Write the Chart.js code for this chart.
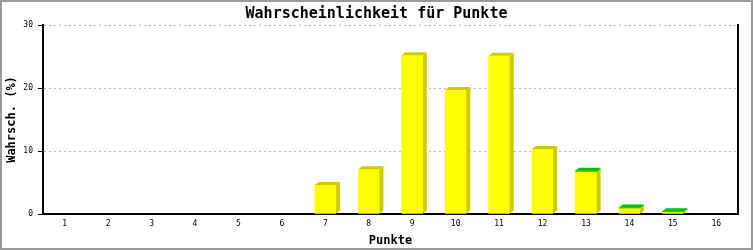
<!DOCTYPE html>
<html>
<head>
<meta charset="utf-8">
<script src="https://cdn.jsdelivr.net/npm/chart.js@4"></script>
<style>
  html, body { margin: 0; padding: 0; background: #fff; }
  #wrap { width: 753px; height: 250px; position: relative; }
</style>
</head>
<body>
<div id="wrap"><canvas id="chart"></canvas></div>
<script>
// --- Data ---
const points = ['1', '2', '3', '4', '5', '6', '7', '8', '9', '10', '11', '12', '13', '14', '15', '16'];
const yellowValues = [0, 0, 0, 0, 0, 0, 4.6, 7.1, 25.2, 19.7, 25.1, 10.3, 6.7, 0.9, 0.3, 0];
const greenValues = [0, 0, 0, 0, 0, 0, 0, 0, 0, 0, 0, 0, 0.15, 0.15, 0.15, 0];
const yTicks = [0, 10, 20, 30];

const mono = 'DejaVu Sans Mono';
const DX = 4, DY = 3;

// draws the fake 3D side and top of every bar, dataset by dataset (bottom of stack first)
const depth3d = {
    id: 'depth3d',
    afterDatasetsDraw(chart) {
        const ctx = chart.ctx;
        chart.data.datasets.forEach((ds, i) => {
            chart.getDatasetMeta(i).data.forEach(bar => {
                const p = bar.getProps(['x', 'y', 'base', 'width'], true);
                const h = p.base - p.y;
                if (h < 0.5) return;
                const l = p.x - p.width / 2, r = p.x + p.width / 2;
                ctx.save();
                ctx.fillStyle = ds.backgroundColor;
                ctx.fillRect(l, p.y, p.width, h);
                ctx.fillStyle = ds.depthColor;
                ctx.beginPath();
                ctx.moveTo(r, p.base);
                ctx.lineTo(r + DX, p.base - DY);
                ctx.lineTo(r + DX, p.y - DY);
                ctx.lineTo(r, p.y);
                ctx.closePath();
                ctx.fill();
                ctx.beginPath();
                ctx.moveTo(l, p.y);
                ctx.lineTo(l + DX, p.y - DY);
                ctx.lineTo(r + DX, p.y - DY);
                ctx.lineTo(r, p.y);
                ctx.closePath();
                ctx.fill();
                ctx.restore();
            });
        });
    }
};

// outer frame of the picture
const frame = {
    id: 'frame',
    beforeDraw(chart) {
        const ctx = chart.ctx;
        ctx.save();
        ctx.fillStyle = '#fff';
        ctx.fillRect(0, 0, chart.width, chart.height);
        ctx.restore();
    },
    afterDraw(chart) {
        const ctx = chart.ctx;
        ctx.save();
        ctx.strokeStyle = '#999';
        ctx.lineWidth = 2;
        ctx.strokeRect(1, 1, chart.width - 2, chart.height - 2);
        ctx.restore();
    }
};

new Chart(document.getElementById('chart').getContext('2d'), {
    type: 'bar',
    data: {
        labels: points,
        datasets: [{
            data: yellowValues,
            backgroundColor: '#ffff00',
            depthColor: '#cccc00',
            borderWidth: 0
        }, {
            data: greenValues,
            backgroundColor: '#00ee00',
            depthColor: '#00c000',
            borderWidth: 0
        }]
    },
    options: {
        responsive: true,
        maintainAspectRatio: false,
        animation: false,
        events: [],
        categoryPercentage: 1,
        barPercentage: 0.49,
        layout: { padding: 0 },
        plugins: {
            legend: { display: false },
            tooltip: { enabled: false },
            title: {
                display: true,
                text: 'Wahrscheinlichkeit für Punkte',
                color: '#000',
                font: { family: mono, size: 15, weight: 'bold' },
                padding: { top: 5, bottom: 2 }
            }
        },
        scales: {
            x: {
                stacked: true,
                grid: { display: false, drawTicks: false },
                border: { color: '#000', width: 2 },
                ticks: { color: '#000', font: { family: mono, size: 8 }, padding: 5, maxRotation: 0 },
                title: {
                    display: true,
                    text: 'Punkte',
                    color: '#000',
                    font: { family: mono, size: 12, weight: 'bold' },
                    padding: { top: 0, bottom: 2 }
                },
                afterFit: s => { s.height = 36; }
            },
            y: {
                stacked: true,
                min: 0,
                max: 30,
                afterBuildTicks: s => { s.ticks = yTicks.map(v => ({ value: v })); },
                grid: { color: '#bbb', tickColor: '#000', tickLength: 5, tickBorderDash: [] },
                border: { color: '#000', width: 2, dash: [2, 3] },
                ticks: { color: '#000', font: { family: mono, size: 8 }, padding: 5 },
                title: {
                    display: true,
                    text: 'Wahrsch. (%)',
                    color: '#000',
                    font: { family: mono, size: 12, weight: 'bold' },
                    padding: { top: 5, bottom: 0 }
                },
                afterFit: s => { s.width = 43; }
            },
            yr: {
                position: 'right',
                display: true,
                grid: { display: false },
                border: { color: '#000', width: 2 },
                ticks: { display: false },
                afterFit: s => { s.width = 15; }
            }
        }
    },
    plugins: [depth3d, frame]
});
</script>
</body>
</html>
